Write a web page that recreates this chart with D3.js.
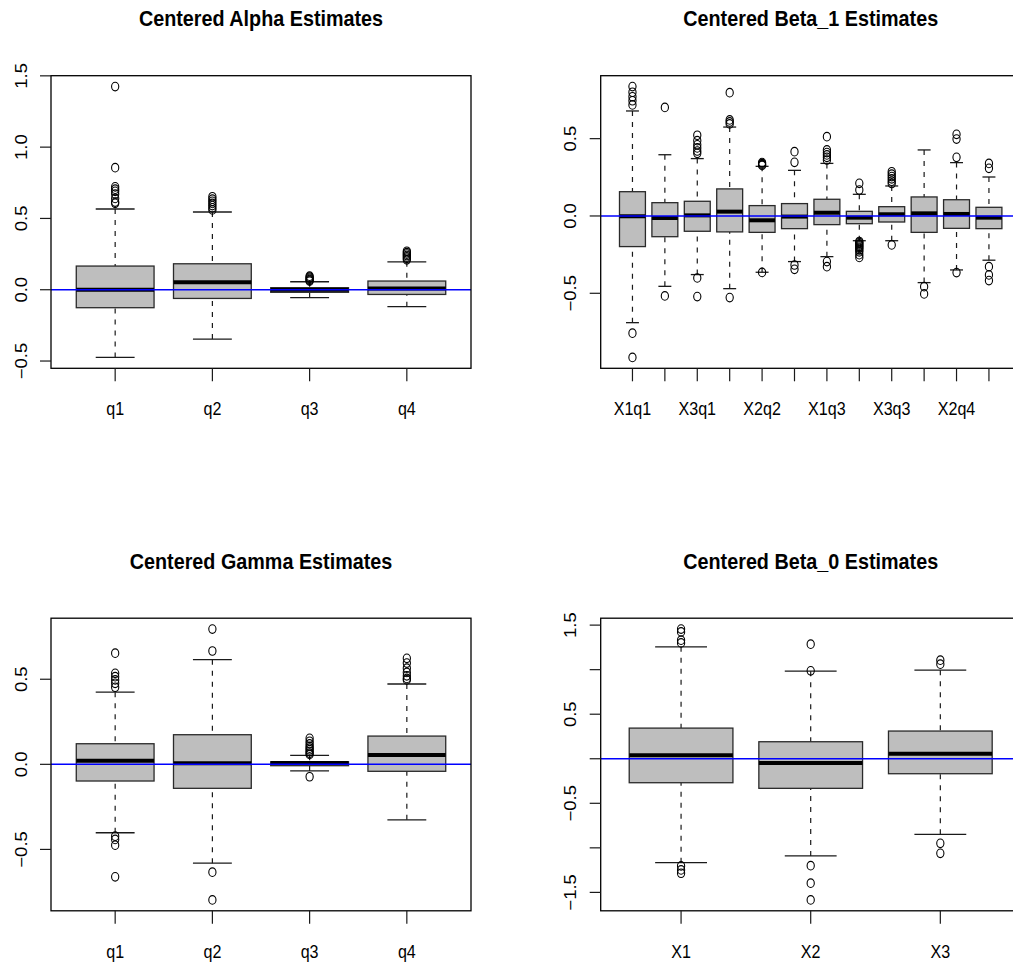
<!DOCTYPE html>
<html>
<head>
<meta charset="utf-8">
<script src="https://cdn.jsdelivr.net/npm/d3@7"></script>
<style>
  body { margin: 0; background: #fff; }
  svg { display: block; }
  text { font-family: "Liberation Sans", Arial, Helvetica, sans-serif; fill: #000; }
</style>
</head>
<body>
<svg id="fig" width="1013" height="969"></svg>
<script>
// Five-number summaries per box: [lower whisker, Q1, median, Q3, upper whisker]

// --- Centered Alpha Estimates ---
const alphaCats = ["q1", "q2", "q3", "q4"];
const alphaStats = [
  [-0.475, -0.126, 0.000, 0.166, 0.566],
  [-0.346, -0.061, 0.052, 0.182, 0.545],
  [-0.056, -0.018, 0.000, 0.014, 0.056],
  [-0.119, -0.033, 0.009, 0.061, 0.196]
];
const alphaOutliers = [
  [1.425, 0.856, 0.722, 0.705, 0.690, 0.671, 0.640, 0.615, 0.606],
  [0.652, 0.635, 0.620, 0.605, 0.590, 0.575, 0.560],
  [0.095, 0.088, 0.080, 0.072, 0.066, 0.060],
  [0.270, 0.260, 0.250, 0.240, 0.230, 0.220, 0.210]
];
const alphaTicks = [-0.5, 0, 0.5, 1, 1.5];

// --- Centered Beta_1 Estimates ---
const beta1Cats = ["X1q1", "X2q1", "X3q1", "X1q2", "X2q2", "X3q2",
                   "X1q3", "X2q3", "X3q3", "X1q4", "X2q4", "X3q4"];
const beta1Stats = [
  [-0.690, -0.198, -0.002, 0.157, 0.679],
  [-0.455, -0.134, -0.013, 0.086, 0.396],
  [-0.379, -0.099,  0.004, 0.095, 0.371],
  [-0.470, -0.103,  0.028, 0.175, 0.575],
  [-0.364, -0.106, -0.028, 0.067, 0.321],
  [-0.295, -0.082, -0.004, 0.080, 0.295],
  [-0.263, -0.056,  0.021, 0.108, 0.340],
  [-0.160, -0.050, -0.011, 0.030, 0.140],
  [-0.160, -0.039,  0.011, 0.060, 0.194],
  [-0.431, -0.106,  0.017, 0.123, 0.427],
  [-0.349, -0.080,  0.013, 0.105, 0.345],
  [-0.286, -0.082, -0.011, 0.056, 0.252]
];
const beta1Outliers = [
  [0.837, 0.800, 0.771, 0.745, 0.718, -0.758, -0.915],
  [0.702, -0.517],
  [0.522, 0.487, 0.460, 0.440, 0.420, 0.405, -0.401, -0.521],
  [0.797, 0.621, 0.608, 0.595, -0.528],
  [0.345, 0.338, 0.332, 0.327, -0.365],
  [0.416, 0.347, -0.317, -0.345],
  [0.513, 0.427, 0.410, 0.395, 0.379, 0.362, -0.295, -0.328],
  [0.211, 0.168, -0.165, -0.172, -0.180, -0.187, -0.195, -0.203, -0.210, -0.220, -0.232, -0.250, -0.268],
  [0.286, 0.270, 0.255, 0.240, 0.225, 0.210, -0.187],
  [-0.457, -0.504],
  [0.528, 0.497, 0.379, -0.366],
  [0.340, 0.308, -0.328, -0.381, -0.418]
];
const beta1Ticks = [-0.5, 0, 0.5];

// --- Centered Gamma Estimates ---
const gammaCats = ["q1", "q2", "q3", "q4"];
const gammaStats = [
  [-0.402, -0.098, 0.021, 0.121, 0.424],
  [-0.581, -0.141, 0.006, 0.174, 0.615],
  [-0.039, -0.008, 0.008, 0.015, 0.053],
  [-0.326, -0.041, 0.055, 0.166, 0.472]
];
const gammaOutliers = [
  [0.653, 0.535, 0.515, 0.496, 0.476, 0.453, -0.422, -0.441, -0.475, -0.661],
  [0.795, 0.666, -0.634, -0.797],
  [0.153, 0.135, 0.120, 0.105, 0.095, 0.085, 0.075, 0.065, 0.058, -0.073],
  [0.623, 0.595, 0.565, 0.540, 0.520, 0.505, 0.496]
];
const gammaTicks = [-0.5, 0, 0.5];

// --- Centered Beta_0 Estimates ---
const beta0Cats = ["X1", "X2", "X3"];
const beta0Stats = [
  [-1.166, -0.269,  0.038, 0.344, 1.256],
  [-1.091, -0.332, -0.048, 0.191, 0.983],
  [-0.848, -0.168,  0.056, 0.311, 0.994]
];
const beta0Outliers = [
  [1.456, 1.424, 1.331, 1.300, -1.203, -1.248, -1.285],
  [1.286, 0.987, -1.200, -1.397, -1.585],
  [1.106, 1.062, -0.949, -1.061]
];
const beta0Ticks = [-1.5, -1, -0.5, 0, 0.5, 1, 1.5];

// Panel frames (plot-region origin); the right column runs past the page edge.
const panels = [
  { title: "Centered Alpha Estimates",  cats: alphaCats, stats: alphaStats, outliers: alphaOutliers, ticks: alphaTicks, left: 51,    top: 75.7 },
  { title: "Centered Beta_1 Estimates", cats: beta1Cats, stats: beta1Stats, outliers: beta1Outliers, ticks: beta1Ticks, left: 600.7, top: 75.7 },
  { title: "Centered Gamma Estimates",  cats: gammaCats, stats: gammaStats, outliers: gammaOutliers, ticks: gammaTicks, left: 51,    top: 618.2 },
  { title: "Centered Beta_0 Estimates", cats: beta0Cats, stats: beta0Stats, outliers: beta0Outliers, ticks: beta0Ticks, left: 600.7, top: 618.2 }
];

const PW = 420, PH = 292.6;
const AXIS_FS = 18.5, TITLE_FS = 21.5;
const SQUEEZE = 0.87, TITLE_SQUEEZE = 0.92;
const BOX_FILL = "#bebebe", INK = "#1a1a1a";
const fmt = d3.format(".1f");

const svg = d3.select("#fig");

panels.forEach(drawPanel);

function drawPanel(p) {
  const g = svg.append("g");
  const n = p.cats.length;
  const xPad = 0.04 * n;
  const x = d3.scaleLinear()
    .domain([0.5 - xPad, n + 0.5 + xPad])
    .range([p.left, p.left + PW]);

  const values = p.stats.flat().concat(p.outliers.flat());
  const [lo, hi] = d3.extent(values);
  const yPad = (hi - lo) * 0.04;
  const y = d3.scaleLinear()
    .domain([lo - yPad, hi + yPad])
    .range([p.top + PH, p.top]);

  const bottom = p.top + PH;

  // boxes
  p.stats.forEach((s, i) => {
    const c = i + 1;
    const [wLo, q1, med, q3, wHi] = s;
    const bx0 = x(c - 0.4), bx1 = x(c + 0.4);
    const sx0 = x(c - 0.2), sx1 = x(c + 0.2);
    const cx = x(c);

    g.append("rect")
      .attr("x", bx0).attr("y", y(q3))
      .attr("width", bx1 - bx0).attr("height", y(q1) - y(q3))
      .attr("fill", BOX_FILL);

    // dashed whiskers, drawn from the whisker end toward the box
    [[wLo, q1], [wHi, q3]].forEach(([a, b]) => {
      g.append("line")
        .attr("x1", cx).attr("x2", cx)
        .attr("y1", y(a)).attr("y2", y(b))
        .attr("stroke", INK).attr("stroke-width", 1.2)
        .attr("stroke-dasharray", "5,6");
    });

    // staples
    [wLo, wHi].forEach(v => {
      g.append("line")
        .attr("x1", sx0).attr("x2", sx1)
        .attr("y1", y(v)).attr("y2", y(v))
        .attr("stroke", INK).attr("stroke-width", 1.3);
    });

    g.append("rect")
      .attr("x", bx0).attr("y", y(q3))
      .attr("width", bx1 - bx0).attr("height", y(q1) - y(q3))
      .attr("fill", "none").attr("stroke", "#2a2a2a").attr("stroke-width", 1.3);

    g.append("line")
      .attr("x1", bx0).attr("x2", bx1)
      .attr("y1", y(med)).attr("y2", y(med))
      .attr("stroke", "#000").attr("stroke-width", 4);

    // outliers
    g.selectAll(null)
      .data(p.outliers[i])
      .join("ellipse")
      .attr("cx", cx).attr("cy", d => y(d))
      .attr("rx", 3.6).attr("ry", 4.3)
      .attr("fill", "none").attr("stroke", "#000").attr("stroke-width", 1.1);
  });

  // reference line at zero
  g.append("line")
    .attr("x1", p.left).attr("x2", p.left + PW)
    .attr("y1", y(0)).attr("y2", y(0))
    .attr("stroke", "#0000ff").attr("stroke-width", 1.5);

  // plot frame
  g.append("rect")
    .attr("x", p.left).attr("y", p.top)
    .attr("width", PW).attr("height", PH)
    .attr("fill", "none").attr("stroke", "#000").attr("stroke-width", 1.3);

  // x axis ticks and labels (labels that would collide are skipped)
  let lastRight = -Infinity;
  p.cats.forEach((name, i) => {
    const cx = x(i + 1);
    g.append("line")
      .attr("x1", cx).attr("x2", cx)
      .attr("y1", bottom).attr("y2", bottom + 13)
      .attr("stroke", INK).attr("stroke-width", 1.2);
    const t = g.append("text")
      .attr("transform", `translate(${cx},${bottom + 47}) scale(${SQUEEZE},1)`)
      .attr("text-anchor", "middle")
      .attr("font-size", AXIS_FS)
      .text(name);
    const w = t.node().getComputedTextLength() * SQUEEZE;
    if (cx - w / 2 < lastRight + AXIS_FS * 0.6) {
      t.remove();
    } else {
      lastRight = cx + w / 2;
    }
  });

  // y axis ticks and rotated labels
  let lastTop = Infinity;
  p.ticks.forEach(v => {
    const ty = y(v);
    g.append("line")
      .attr("x1", p.left - 11).attr("x2", p.left)
      .attr("y1", ty).attr("y2", ty)
      .attr("stroke", INK).attr("stroke-width", 1.2);
    const t = g.append("text")
      .attr("transform", `translate(${p.left - 24.3},${ty}) scale(${SQUEEZE},1) rotate(-90)`)
      .attr("text-anchor", "middle")
      .attr("font-size", AXIS_FS)
      .text(fmt(v));
    const len = t.node().getComputedTextLength();
    if (ty + len / 2 > lastTop - AXIS_FS * 1.2) {
      t.remove();
    } else {
      lastTop = ty - len / 2;
    }
  });

  // title
  g.append("text")
    .attr("transform", `translate(${p.left + PW / 2},${p.top - 49.7}) scale(${TITLE_SQUEEZE},1)`)
    .attr("text-anchor", "middle")
    .attr("font-size", TITLE_FS)
    .attr("font-weight", "bold")
    .text(p.title);
}
</script>
</body>
</html>
